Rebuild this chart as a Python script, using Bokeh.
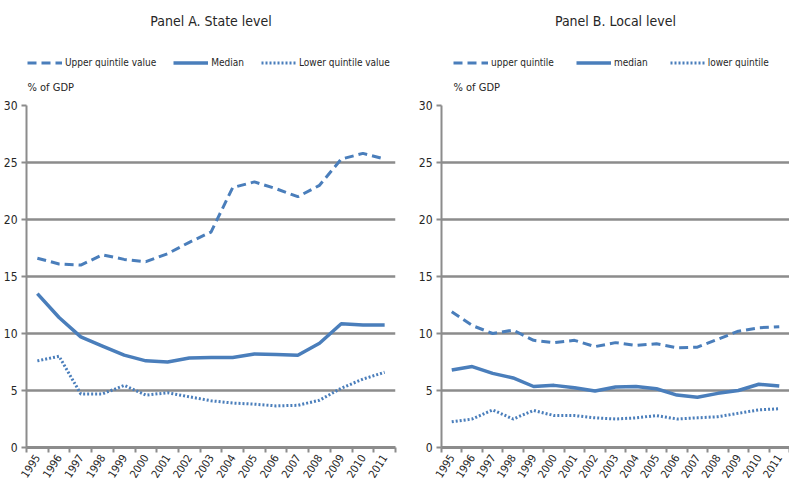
from bokeh.plotting import figure
from bokeh.models import (Range1d, FixedTicker, Legend, LegendItem, Label,
                          BasicTickFormatter)
from bokeh.layouts import row, column
from bokeh.embed import file_html
from bokeh.resources import INLINE

years = [1995, 1996, 1997, 1998, 1999, 2000, 2001, 2002, 2003,
         2004, 2005, 2006, 2007, 2008, 2009, 2010, 2011]

# Panel A. State level (% of GDP)
state_upper = [16.6, 16.1, 16.0, 16.9, 16.5, 16.3, 17.0, 18.0, 18.9,
               22.8, 23.3, 22.7, 22.0, 23.0, 25.3, 25.8, 25.3]
state_median = [13.5, 11.4, 9.7, 8.9, 8.1, 7.6, 7.5, 7.85, 7.9,
                7.9, 8.2, 8.15, 8.1, 9.15, 10.85, 10.75, 10.75]
state_lower = [7.6, 8.0, 4.7, 4.7, 5.45, 4.6, 4.8, 4.45, 4.1,
               3.9, 3.8, 3.65, 3.7, 4.15, 5.2, 6.0, 6.6]

# Panel B. Local level (% of GDP)
local_upper = [11.9, 10.7, 10.0, 10.3, 9.4, 9.2, 9.4, 8.85, 9.2,
               8.95, 9.1, 8.75, 8.8, 9.5, 10.2, 10.5, 10.6]
local_median = [6.8, 7.1, 6.5, 6.1, 5.35, 5.45, 5.25, 4.95, 5.3,
                5.35, 5.15, 4.6, 4.4, 4.75, 5.0, 5.55, 5.4]
local_lower = [2.25, 2.5, 3.3, 2.5, 3.25, 2.8, 2.8, 2.6, 2.5,
               2.6, 2.8, 2.5, 2.6, 2.7, 3.0, 3.3, 3.4]

y_ticks = [0, 5, 10, 15, 20, 25, 30]

FONT = "DejaVu Sans Condensed"
BLUE = "#4a7ebb"
GRID = "#8c8c8c"
TEXT = "#262626"

HEAD_H = 97
MAIN_H = 395

UP_STYLE = dict(line_color=BLUE, line_width=3, line_dash="9 5")
MED_STYLE = dict(line_color=BLUE, line_width=3.5)
LOW_STYLE = dict(line_color=BLUE, line_width=3, line_dash="2 2")


def make_header(width, left, right, title, labels, series, legend_x, spacing):
    fw = width - left - right
    h = figure(width=width, height=HEAD_H, x_range=Range1d(0, fw),
               y_range=Range1d(0, HEAD_H), output_backend="svg",
               toolbar_location=None, x_axis_type=None, y_axis_type=None,
               min_border_left=left, min_border_right=right,
               min_border_top=0, min_border_bottom=0)
    h.grid.visible = False
    h.outline_line_color = None
    h.background_fill_color = "white"
    h.border_fill_color = "white"
    # legend glyph sources: the series themselves, lying outside this view
    r_up = h.line(years, series[0], **UP_STYLE)
    r_med = h.line(years, series[1], **MED_STYLE)
    r_low = h.line(years, series[2], **LOW_STYLE)

    h.add_layout(Label(x=fw / 2, y=HEAD_H - 20,
                       text=title, text_font=FONT, text_font_size="14px",
                       text_color=TEXT, text_align="center",
                       text_baseline="middle"))
    h.add_layout(Label(x=legend_x, y=10, text="% of GDP",
                       text_font=FONT, text_font_size="11px",
                       text_color=TEXT, text_align="left",
                       text_baseline="middle"))
    legend = Legend(items=[LegendItem(label=labels[0], renderers=[r_up]),
                           LegendItem(label=labels[1], renderers=[r_med]),
                           LegendItem(label=labels[2], renderers=[r_low])],
                    orientation="horizontal",
                    location=(legend_x, 28),
                    label_text_font=FONT, label_text_font_size="10px",
                    label_text_color=TEXT, glyph_width=35, glyph_height=13,
                    label_standoff=3, spacing=spacing, padding=0, margin=0,
                    border_line_color=None, background_fill_alpha=0)
    h.add_layout(legend)
    return h


def make_main(series, width, left, right):
    p = figure(width=width, height=MAIN_H,
               x_range=Range1d(years[0] - 0.5, years[-1] + 0.5),
               y_range=Range1d(y_ticks[0], y_ticks[-1]),
               output_backend="svg", toolbar_location=None,
               min_border_left=left, min_border_right=right,
               min_border_top=8, min_border_bottom=45)
    p.outline_line_color = None
    p.background_fill_color = "white"
    p.border_fill_color = "white"

    p.line(years, series[0], **UP_STYLE)
    p.line(years, series[1], **MED_STYLE)
    p.line(years, series[2], **LOW_STYLE)

    yax = p.yaxis[0]
    yax.ticker = FixedTicker(ticks=y_ticks)
    yax.axis_line_color = GRID
    yax.axis_line_width = 2
    yax.major_tick_line_color = GRID
    yax.major_tick_line_width = 2
    yax.major_tick_in = 0
    yax.major_tick_out = 5
    yax.minor_tick_line_color = None
    yax.major_label_text_font = FONT
    yax.major_label_text_font_size = "12px"
    yax.major_label_text_color = TEXT
    yax.major_label_standoff = 4

    # x axis: labels at years, tick marks between years
    boundaries = [y - 0.5 for y in years] + [years[-1] + 0.5]
    xax = p.xaxis[0]
    xax.ticker = FixedTicker(ticks=years, minor_ticks=boundaries)
    xax.formatter = BasicTickFormatter(use_scientific=False)
    xax.axis_line_color = GRID
    xax.axis_line_width = 3
    xax.major_tick_line_color = None
    xax.major_tick_in = 0
    xax.major_tick_out = 5
    xax.minor_tick_line_color = GRID
    xax.minor_tick_line_width = 2
    xax.minor_tick_in = 0
    xax.minor_tick_out = 5
    xax.major_label_orientation = 1.0
    xax.major_label_text_font = FONT
    xax.major_label_text_font_size = "11px"
    xax.major_label_text_color = TEXT
    xax.major_label_standoff = 3

    p.xgrid.grid_line_color = None
    p.ygrid.ticker = FixedTicker(ticks=y_ticks[1:])
    p.ygrid.grid_line_color = GRID
    p.ygrid.grid_line_width = 2.5
    return p


state = [state_upper, state_median, state_lower]
local = [local_upper, local_median, local_lower]

hA = make_header(400, 26, 5, "Panel A. State level",
                 ["Upper quintile value", "Median", "Lower quintile value"],
                 state, 1, 17)
pA = make_main(state, 400, 26, 5)
hB = make_header(389, 41, 0, "Panel B. Local level",
                 ["upper quintile", "median", "lower quintile"],
                 local, 12, 22)
pB = make_main(local, 389, 41, 0)

layout = row(column(hA, pA), column(hB, pB))
open("out.html", "w").write(file_html(layout, INLINE))
